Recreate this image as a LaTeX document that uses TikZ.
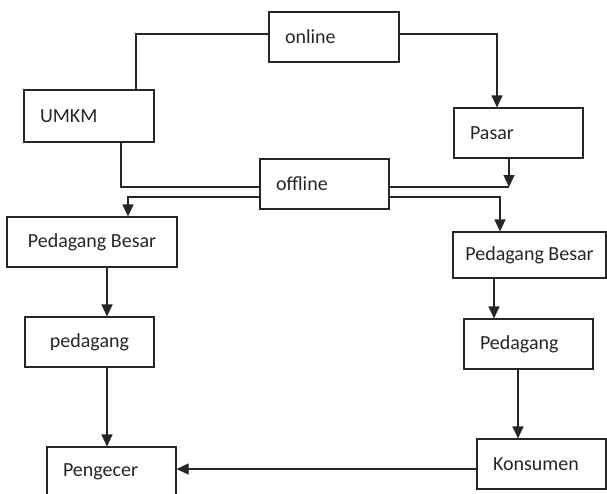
\documentclass[tikz,border=0pt]{standalone}
\usepackage{fontspec}
\setmainfont{Carlito}
\usetikzlibrary{shapes, arrows.meta}
\usetikzlibrary{positioning}

\begin{document}
\begin{tikzpicture}[x=1pt, y=-1pt,
  kotak/.style={draw=black!85, rectangle, line width=1.1pt, minimum height=50pt, inner sep=0pt, text=black!85, font=\fontsize{20}{24}\selectfont},
  kiri/.style={text width=#1, align=left},
  garis/.style={draw=black!85, line width=1.1pt},
  panah/.style={draw=black!85, line width=1.1pt, -{Triangle[length=12pt,width=11pt]}}]
\useasboundingbox (0,0) rectangle (607,493);

\node[kotak, minimum width=130pt, kiri=98pt] (online) at (334,37) {online};
\node[kotak, minimum width=130pt, minimum height=52pt, kiri=98pt] (umkm) at (89,116) {UMKM};
\node[kotak, minimum width=129pt, kiri=97pt] (pasar) at (518.5,133) {Pasar};
\node[kotak, minimum width=129pt, kiri=97pt] (offline) at (324.5,184) {offline};

\node[kotak, minimum width=170pt] (besarkiri) at (92,242) {Pedagang Besar};
\node[kotak, minimum width=153pt, minimum height=46pt] (besarkanan) at (529.5,255) {Pedagang Besar};
\node[kotak, minimum width=129pt] (pedagangkiri) at (89.5,342) {pedagang};
\node[kotak, minimum width=129pt, kiri=97pt] (pedagangkanan) at (528.5,344) {Pedagang};
\node[kotak, minimum width=129pt, kiri=97pt] (pengecer) at (111.5,472) {Pengecer};
\node[kotak, minimum width=129pt, kiri=97pt] (konsumen) at (541.5,464) {Konsumen};

\coordinate (belok) at (121,187);
\coordinate (temu) at (509,187);

\draw[garis] ([xshift=47pt]umkm.north) |- ([yshift=3pt]online.west);
\draw[panah] ([yshift=3pt]online.east) -| ([xshift=-21.5pt]pasar.north);
\draw[garis] (umkm.south -| belok) -- (belok) -- (offline.west |- belok);
\draw[garis] (offline.east |- temu) -- (temu);
\draw[panah] (pasar.south -| temu) -- (temu);
\draw[panah] ([yshift=-13pt]offline.west) -| ([xshift=36pt]besarkiri.north);
\draw[panah] ([yshift=-13pt]offline.east) -| ([xshift=-29.5pt]besarkanan.north);

\draw[panah] ([xshift=15pt]besarkiri.south) -- ([xshift=17.5pt]pedagangkiri.north);
\draw[panah] ([xshift=17.5pt]pedagangkiri.south) -- ([xshift=-4.5pt]pengecer.north);
\draw[panah] ([xshift=-35.5pt]besarkanan.south) -- ([xshift=-34.5pt]pedagangkanan.north);
\draw[panah] ([xshift=-10.5pt]pedagangkanan.south) -- ([xshift=-23.5pt]konsumen.north);
\draw[panah] ([yshift=-5pt]konsumen.west) -- ([yshift=-5pt]konsumen.west -| pengecer.east);
\end{tikzpicture}
\end{document}
